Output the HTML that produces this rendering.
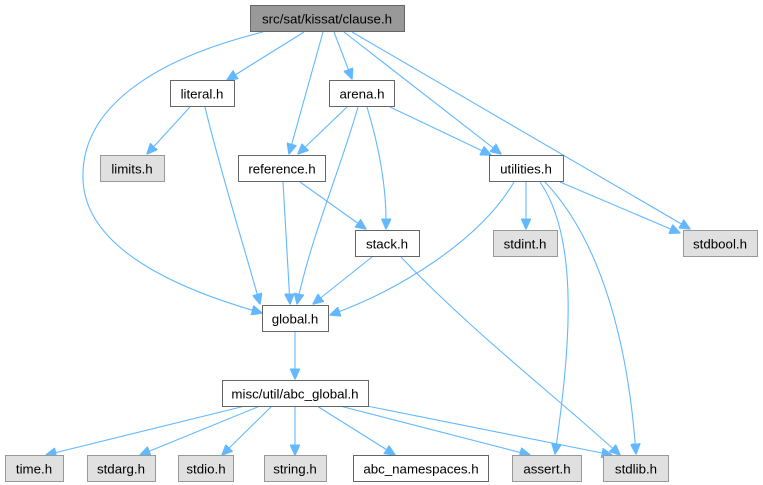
<!DOCTYPE html>
<html><head><meta charset="utf-8"><style>
html,body{margin:0;padding:0;background:#fff}
svg{display:block}
text{font-family:"Liberation Sans",Arial,sans-serif;font-size:13.3px;fill:#000;text-anchor:middle}
.n{fill:#fff;stroke:#666;stroke-width:1}
.g{fill:#e0e0e0;stroke:#999;stroke-width:1}
.e{fill:none;stroke:#63b8ff;stroke-width:1.1}
</style></head><body>
<svg width="763" height="485" viewBox="0 0 763 485" xmlns="http://www.w3.org/2000/svg">
<defs><marker id="a" markerWidth="11" markerHeight="10" refX="10.5" refY="5" orient="auto" markerUnits="userSpaceOnUse"><path d="M0,0 L11,5 L0,10 Z" fill="#63b8ff" stroke="#63b8ff"/></marker></defs>
<g marker-end="url(#a)">
<path class="e" d="M263,32 C150,60 80,110 83,180 C86,250 180,290 262,313"/>
<path class="e" d="M304,32 L227,80"/>
<path class="e" d="M323,32 L289,154"/>
<path class="e" d="M334,32 L352,79"/>
<path class="e" d="M344,32 L501,154"/>
<path class="e" d="M352,32 L690,229"/>
<path class="e" d="M190,107 L147,154"/>
<path class="e" d="M205,107 C220,170 245,250 260,304"/>
<path class="e" d="M347,107 L298,154"/>
<path class="e" d="M358,107 C340,170 310,240 297,304"/>
<path class="e" d="M367,107 C380,150 387,190 386,229"/>
<path class="e" d="M390,107 L491,155"/>
<path class="e" d="M283,182 L290,304"/>
<path class="e" d="M300,182 L366,229"/>
<path class="e" d="M372,257 L313,304"/>
<path class="e" d="M401,257 C470,330 560,400 620,455"/>
<path class="e" d="M514,182 C480,240 400,290 330,315"/>
<path class="e" d="M526,182 L526,229"/>
<path class="e" d="M560,182 L680,233"/>
<path class="e" d="M540,182 C580,240 570,350 555,454"/>
<path class="e" d="M545,182 C600,240 628,340 636,454"/>
<path class="e" d="M295,332 L295,379"/>
<path class="e" d="M245,406 L46,455"/>
<path class="e" d="M260,406 L140,455"/>
<path class="e" d="M272,406 L222,455"/>
<path class="e" d="M295,406 L295,455"/>
<path class="e" d="M317,406 L395,455"/>
<path class="e" d="M340,406 L530,455"/>
<path class="e" d="M367,406 L612,455"/>
</g>
<rect x="250.5" y="5.5" width="154" height="26" fill="#999" stroke="#666"/><text x="327" y="23.5">src/sat/kissat/clause.h</text>
<rect class="n" x="170.5" y="80.5" width="64" height="26"/><text x="202" y="98.5">literal.h</text>
<rect class="n" x="329.5" y="80.5" width="65" height="26"/><text x="362" y="98.5">arena.h</text>
<rect class="g" x="100.5" y="155.5" width="64" height="26"/><text x="132" y="173.5">limits.h</text>
<rect class="n" x="238.5" y="155.5" width="87" height="26"/><text x="282" y="173.5">reference.h</text>
<rect class="n" x="489.5" y="155.5" width="74" height="26"/><text x="526" y="173.5">utilities.h</text>
<rect class="n" x="355.5" y="230.5" width="64" height="26"/><text x="387" y="248.5">stack.h</text>
<rect class="g" x="493.5" y="230.5" width="64" height="26"/><text x="525" y="248.5">stdint.h</text>
<rect class="g" x="683.5" y="230.5" width="74" height="26"/><text x="720" y="248.5">stdbool.h</text>
<rect class="n" x="262.5" y="305.5" width="66" height="26"/><text x="295" y="323.5">global.h</text>
<rect class="n" x="222.5" y="380.5" width="146" height="26"/><text x="295" y="398.5">misc/util/abc_global.h</text>
<rect class="g" x="5.5" y="455.5" width="58" height="26"/><text x="34" y="473.5">time.h</text>
<rect class="g" x="87.5" y="455.5" width="68" height="26"/><text x="121" y="473.5">stdarg.h</text>
<rect class="g" x="178.5" y="455.5" width="55" height="26"/><text x="206" y="473.5">stdio.h</text>
<rect class="g" x="264.5" y="455.5" width="62" height="26"/><text x="295" y="473.5">string.h</text>
<rect class="n" x="353.5" y="455.5" width="135" height="26"/><text x="421" y="473.5">abc_namespaces.h</text>
<rect class="g" x="512.5" y="455.5" width="69" height="26"/><text x="547" y="473.5">assert.h</text>
<rect class="g" x="603.5" y="455.5" width="65" height="26"/><text x="636" y="473.5">stdlib.h</text>
</svg>
</body></html>
